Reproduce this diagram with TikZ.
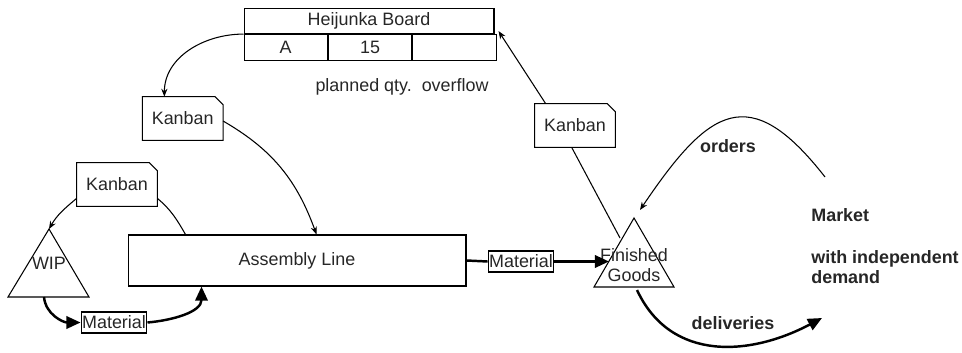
\documentclass[tikz,border=0pt]{standalone}
\usepackage{fontspec}
\setmainfont{Liberation Sans}
\usepackage{tikz}
\usetikzlibrary{arrows.meta, positioning, calc}

\tikzset{
    txt/.style={font=\fontsize{10.2}{11.5}\selectfont, text=black!85, inner sep=0pt},
    cell/.style={txt, draw, line width=0.6pt, minimum height=0.51cm},
    kanban/.style={txt, minimum width=1.6cm, minimum height=0.86cm},
    mat/.style={txt, draw, line width=0.6pt, inner xsep=0.6pt, minimum height=0.42cm},
    thin/.style={line width=0.6pt, -{Stealth[length=4.5pt, width=3.5pt]}},
    thick/.style={line width=1.4pt, -{Triangle[length=8pt, width=7pt]}},
}

\begin{document}
\begin{tikzpicture}[x=0.02cm, y=0.02cm]
    \useasboundingbox (0, 0) rectangle (962, 352);
    % Heijunka-Tafel
    \node[cell, minimum width=5cm] (hb) at (369, 331.2) {Heijunka Board};
    \node[cell, minimum width=5cm/3, anchor=north west] (ca) at (hb.south west) {A};
    \node[cell, minimum width=5cm/3, right=0pt of ca] (cq) {15};
    \node[cell, minimum width=5cm/3, right=0pt of cq] (cf) {};
    \node[txt, align=left] (plan) at (402, 265) {planned qty.\ \ overflow};

    \node[kanban] (k1) at (182.7, 233.5) {Kanban};
    \node[kanban] (k2) at (117, 167.5) {Kanban};
    \node[kanban] (k3) at (575, 226.5) {Kanban};
    \foreach \k in {k1, k2, k3}
        \draw[line width=0.6pt] (\k.south west) -- (\k.north west) -- ($(\k.north east)+(-8, 0)$)
            -- ($(\k.north east)+(0, -8)$) -- (\k.south east) -- cycle;

    \node[cell, minimum width=6.76cm, minimum height=1.02cm] (asm) at (297, 91.5) {Assembly Line};
    \node[mat] (mat1) at (114, 29.5) {Material};
    \node[mat] (mat2) at (521, 90.5) {Material};

    % Dreiecke (Puffer)
    \coordinate (wipl) at (8, 55);
    \coordinate (wipt) at (49, 123);
    \coordinate (wipr) at (89, 55);
    \draw[line width=0.6pt] (wipl) -- (wipt) -- (wipr) -- cycle;
    \node[txt] (wip) at (49, 89) {WIP};
    \coordinate (fgl) at (594, 65);
    \coordinate (fgt) at (634, 134);
    \coordinate (fgr) at (674, 65);
    \draw[line width=0.6pt] (fgl) -- (fgt) -- (fgr) -- cycle;
    \node[txt, align=center] (fg) at (634, 87) {Finished\\Goods};

    \node[txt, font=\fontsize{10.2}{11.5}\selectfont\bfseries] (ord) at (728, 206) {orders};
    \node[txt, font=\fontsize{10.2}{11.5}\selectfont\bfseries] (del) at (733, 29) {deliveries};
    \node[txt, font=\fontsize{10.2}{11.5}\selectfont\bfseries, anchor=west] (mkt) at (811, 137) {Market};
    \node[txt, font=\fontsize{10.2}{20}\selectfont\bfseries, align=left, anchor=west] (dem) at (811, 85)
        {with independent\\[-8.5pt]demand};

    \coordinate (mktin) at (825, 175);
    \coordinate (ordend) at (640, 142);
    \coordinate (delst) at (637, 62);
    \coordinate (delend) at (822, 34);
    \coordinate (fgin) at (609, 90.5);
    \coordinate (fgk) at (620, 114);
    \coordinate (wipout) at (44, 55);

    \draw[thin] (hb.south west) to[out=180, in=90] ($(k1.north west)+(22, 0)$);
    \draw[thin] ($(k1.east)+(0, -2.5)$) to[out=-30, in=110] ($(asm.north west)+(189, 0)$);
    \draw[thin] ($(k2.south west)+(0, 8)$) to[out=-140, in=60] (wipt);
    \draw[line width=0.6pt] ($(k2.south east)+(0, 8)$) to[out=-40, in=120] ($(asm.north west)+(58, 0)$);
    \draw[thick] (wipout) to[out=-85, in=180] (mat1.west);
    \draw[thick] (mat1.east) to[out=5, in=-90] ($(asm.south west)+(74, 0)$);
    \draw[line width=1.4pt] (asm.east) -- (mat2.west);
    \draw[thick] (mat2.east) -- (fgin);
    \draw[line width=0.6pt] (fgk) -- ($(k3.south west)+(37, 0)$);
    \draw[thin] ($(k3.north west)+(11, 0)$) -- ($(hb.south east)+(4, 3)$);
    \draw[thin] (mktin) to[out=128, in=56, looseness=1.68] (ordend);
    \draw[thick] (delst) to[out=-65, in=208, looseness=1.1] (delend);
\end{tikzpicture}
\end{document}
